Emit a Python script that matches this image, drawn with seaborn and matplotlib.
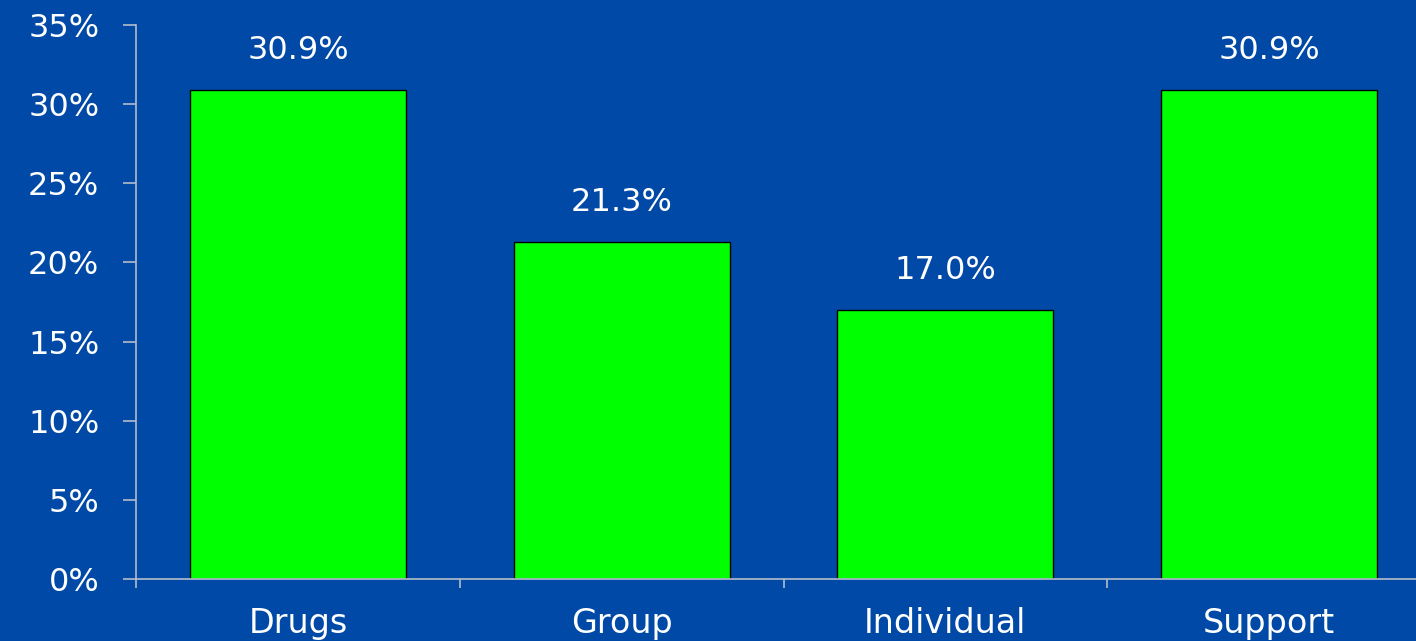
import matplotlib
matplotlib.use("Agg")
import matplotlib.pyplot as plt
import seaborn as sns
import pandas as pd
from matplotlib.ticker import FixedLocator, FuncFormatter

categories = ["Drugs", "Group", "Individual", "Support"]
values = [30.9, 21.3, 17.0, 30.9]
value_labels = ["30.9%", "21.3%", "17.0%", "30.9%"]
y_ticks = [0, 5, 10, 15, 20, 25, 30, 35]

bg = "#0049a6"
bar_color = "#00ff00"
axis_color = "#b4bccb"

sns.set_theme(style="white")
plt.rcParams["font.family"] = ["DejaVu Sans"]

fig = plt.figure(figsize=(14.16, 6.41), dpi=100, facecolor=bg)
ax = fig.add_axes([136/1416, 1-579/641, (1431-136)/1416, (579-25)/641])
ax.set_facecolor(bg)

df = pd.DataFrame({"cat": categories, "val": values})
sns.barplot(data=df, x="cat", y="val", color=bar_color, saturation=1,
            width=0.667, edgecolor="black", linewidth=1.0, ax=ax)

ax.set_xlim(-0.5, 3.5)
ax.set_ylim(0, 35)
ax.set_yticks(y_ticks)
ax.yaxis.set_major_formatter(FuncFormatter(lambda v, p: f"{int(v)}%"))
ax.set_xlabel("")
ax.set_ylabel("")

for i, (v, lab) in enumerate(zip(values, value_labels)):
    ax.annotate(lab, (i, v), xytext=(0, 17), textcoords="offset points",
                ha="center", va="bottom", color="white", fontsize=23)

for s in ["top", "right"]:
    ax.spines[s].set_visible(False)
for s in ["left", "bottom"]:
    ax.spines[s].set_color(axis_color)
    ax.spines[s].set_linewidth(1.2)

ax.tick_params(axis="y", colors=axis_color, labelcolor="white", labelsize=23,
               length=9.4, width=1.2, pad=17, direction="out", left=True)
ax.tick_params(axis="x", which="major", length=0, labelcolor="white",
               labelsize=24, pad=20.5)
ax.xaxis.set_minor_locator(FixedLocator([-0.5, 0.5, 1.5, 2.5, 3.5]))
ax.tick_params(axis="x", which="minor", colors=axis_color, length=6.5,
               width=1.2, direction="out", bottom=True)

fig.savefig("out.png", dpi=100, facecolor=bg)
